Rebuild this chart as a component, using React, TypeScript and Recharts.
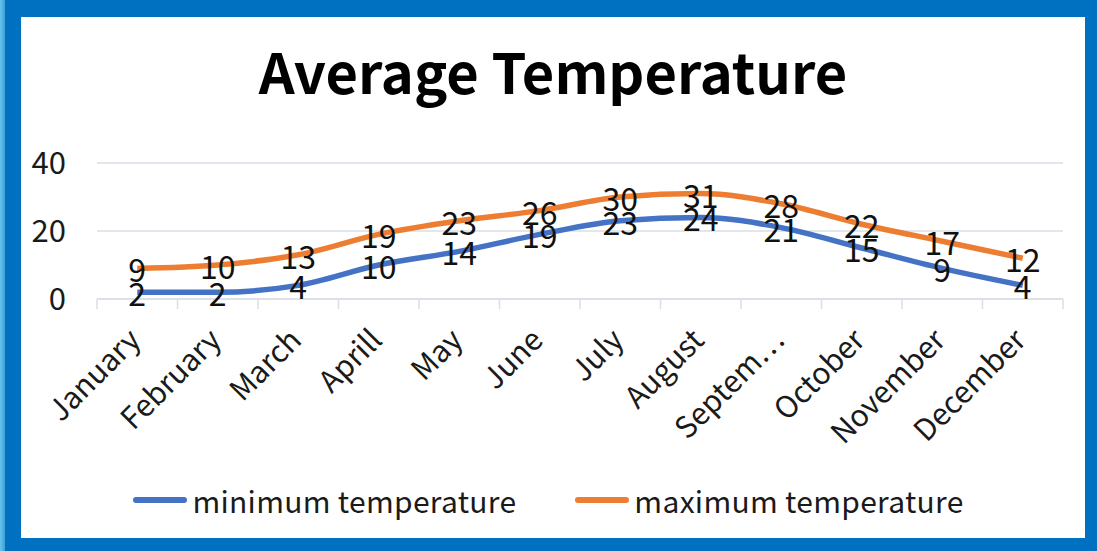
import React from 'react';
import { LineChart, Line, XAxis, YAxis, CartesianGrid, Legend, LabelList } from 'recharts';

const months = ['January', 'February', 'March', 'Aprill', 'May', 'June', 'July', 'August', 'September', 'October', 'November', 'December'];
const tickLabels = ['January', 'February', 'March', 'Aprill', 'May', 'June', 'July', 'August', 'Septem…', 'October', 'November', 'December'];
const minTemp = [2, 2, 4, 10, 14, 19, 23, 24, 21, 15, 9, 4];
const maxTemp = [9, 10, 13, 19, 23, 26, 30, 31, 28, 22, 17, 12];
const yTicks = [0, 20, 40];

const W = 1097;
const H = 551;
const MARGIN = { top: 163, right: 34, bottom: 222, left: 0 };
const Y_W = 97;
const BAND = (W - Y_W - MARGIN.right) / months.length;
const FONT = '"Noto Sans CJK JP", "Noto Sans", sans-serif';
const GRID = '#d9dee7';
const BLUE = '#4472c4';
const ORANGE = '#ed7d31';

const data = months.map((m, i) => ({ month: m, min: minTemp[i], max: maxTemp[i] }));

const MonthTick = ({ x, y, index }: any) => {
  const last = index === months.length - 1;
  const tx = x + 5;
  const ty = y + 43;
  return (
    <g>
      <line x1={x - BAND / 2} x2={x - BAND / 2} y1={y} y2={y + 10} stroke={GRID} strokeWidth={1.5} />
      {last && <line x1={x + BAND / 2} x2={x + BAND / 2} y1={y} y2={y + 10} stroke={GRID} strokeWidth={1.5} />}
      <text
        x={tx}
        y={ty}
        transform={`rotate(-45, ${tx}, ${ty})`}
        textAnchor="end"
        fontFamily={FONT}
        fontSize={30}
        fill="#1a1a1a"
      >
        {tickLabels[index]}
      </text>
    </g>
  );
};

const PointLabel = ({ x, y, value }: any) => (
  <text x={x} y={y} textAnchor="middle" dominantBaseline="central" fontFamily={FONT} fontSize={32} fill="#111">
    {value}
  </text>
);

const LegendBox = () => (
  <div style={{ display: 'flex', justifyContent: 'center', gap: 59, fontFamily: FONT, fontSize: 30, color: '#1a1a1a', letterSpacing: 0.3 }}>
    {[
      { name: 'minimum temperature', color: BLUE },
      { name: 'maximum temperature', color: ORANGE },
    ].map((s) => (
      <span key={s.name} style={{ display: 'flex', alignItems: 'center', gap: 5 }}>
        <span style={{ width: 54, height: 6, borderRadius: 3, background: s.color, display: 'inline-block' }} />
        <span>{s.name}</span>
      </span>
    ))}
  </div>
);

export default function App() {
  return (
    <div style={{ position: 'fixed', left: 0, top: 0, width: W, height: H, background: '#0070c0', overflow: 'hidden' }}>
      <div style={{ position: 'absolute', left: 0, top: 0, width: 5, height: H, background: 'linear-gradient(90deg, #62c6ef, #3f9fd3)' }} />
      <div style={{ position: 'absolute', left: 21, top: 17, width: 1064, height: 521, background: '#fff' }} />
      <div
        style={{
          position: 'absolute', left: 21, width: 1064, top: 34, textAlign: 'center',
          fontFamily: FONT, fontWeight: 700, fontSize: 56, color: '#000', lineHeight: '72px',
        }}
      >
        Average Temperature
      </div>
      <div style={{ position: 'absolute', left: 0, top: 0 }}>
        <LineChart width={W} height={H} data={data} margin={MARGIN}>
          <CartesianGrid horizontal vertical={false} stroke={GRID} strokeWidth={1.5} />
          <XAxis
            dataKey="month"
            height={30}
            padding={{ left: BAND / 2, right: BAND / 2 }}
            axisLine={{ stroke: GRID, strokeWidth: 1.5 }}
            tickLine={false}
            tickSize={0}
            tickMargin={0}
            interval={0}
            tick={<MonthTick />}
          />
          <YAxis
            width={Y_W}
            domain={[0, 40]}
            ticks={yTicks}
            axisLine={false}
            tickLine={false}
            tickSize={0}
            tickMargin={31}
            tick={{ fontFamily: FONT, fontSize: 31, fill: '#1a1a1a' }}
          />
          <Legend
            layout="horizontal"
            verticalAlign="middle"
            align="center"
            wrapperStyle={{ top: 478, left: 0, width: W }}
            content={<LegendBox />}
          />
          <Line type="monotone" dataKey="min" name="minimum temperature" stroke={BLUE} strokeWidth={5.5} dot={false} isAnimationActive={false}>
            <LabelList dataKey="min" content={<PointLabel />} />
          </Line>
          <Line type="monotone" dataKey="max" name="maximum temperature" stroke={ORANGE} strokeWidth={5.5} dot={false} isAnimationActive={false}>
            <LabelList dataKey="max" content={<PointLabel />} />
          </Line>
        </LineChart>
      </div>
    </div>
  );
}
